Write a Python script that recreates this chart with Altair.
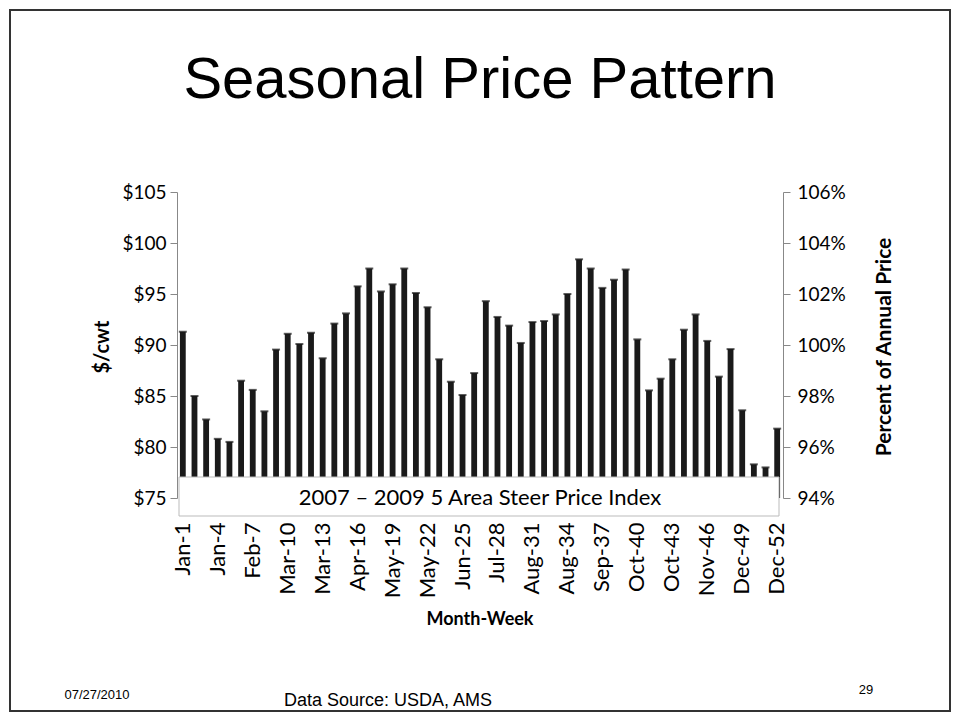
import altair as alt
import pandas as pd

week_labels = [
    "Jan-1", "Jan-2", "Jan-3", "Jan-4", "Feb-5", "Feb-6", "Feb-7", "Feb-8",
    "Mar-9", "Mar-10", "Mar-11", "Mar-12", "Mar-13", "Apr-14", "Apr-15", "Apr-16",
    "Apr-17", "May-18", "May-19", "May-20", "May-21", "May-22", "Jun-23", "Jun-24",
    "Jun-25", "Jun-26", "Jul-27", "Jul-28", "Jul-29", "Jul-30", "Aug-31", "Aug-32",
    "Aug-33", "Aug-34", "Aug-35", "Sep-36", "Sep-37", "Sep-38", "Sep-39", "Oct-40",
    "Oct-41", "Oct-42", "Oct-43", "Nov-44", "Nov-45", "Nov-46", "Nov-47", "Dec-48",
    "Dec-49", "Dec-50", "Dec-51", "Dec-52",
]
prices = [
    91.3, 85.0, 82.7, 80.8, 80.5, 86.5, 85.6, 83.5,
    89.55, 91.1, 90.1, 91.2, 88.7, 92.1, 93.1, 95.75,
    97.5, 95.25, 95.95, 97.5, 95.1, 93.7, 88.6, 86.4,
    85.1, 87.25, 94.3, 92.75, 91.9, 90.2, 92.25, 92.35,
    93.0, 95.0, 98.4, 97.5, 95.6, 96.4, 97.4, 90.55,
    85.55, 86.7, 88.6, 91.5, 93.0, 90.4, 86.9, 89.6,
    83.6, 78.3, 78.0, 81.8,
]
tick_labels = ["Jan-1", "Jan-4", "Feb-7", "Mar-10", "Mar-13", "Apr-16", "May-19",
               "May-22", "Jun-25", "Jul-28", "Aug-31", "Aug-34", "Sep-37", "Oct-40",
               "Oct-43", "Nov-46", "Dec-49", "Dec-52"]
price_ticks = [75, 80, 85, 90, 95, 100, 105]
pct_ticks = [0.94, 0.96, 0.98, 1.00, 1.02, 1.04, 1.06]

title_text = "Seasonal Price Pattern"
box_text = "2007 \u2013 2009 5 Area Steer Price Index"
left_title = "$/cwt"
right_title = "Percent of Annual Price"
x_title = "Month-Week"
date_text = "07/27/2010"
source_text = "Data Source: USDA, AMS"
page_text = "29"

W, H = 606, 306
FONT = "Lato"
AX = "#888888"

df = pd.DataFrame({"week": week_labels, "price": prices})
one = pd.DataFrame({"k": [0]})
pct_df = pd.DataFrame({"pct": [pct_ticks[0], pct_ticks[-1]]})

xenc = alt.X(
    "week:N", sort=week_labels,
    scale=alt.Scale(paddingInner=0.5, paddingOuter=0.25),
    axis=alt.Axis(values=tick_labels, labelAngle=-90, ticks=False, domain=False,
                  labelPadding=24, title=None, labelFont=FONT, labelFontSize=22,
                  labelColor="black"),
)
yenc = alt.Y(
    "price:Q",
    scale=alt.Scale(domain=[75, 105], zero=False, nice=False),
    axis=alt.Axis(values=price_ticks, labelExpr="'$' + datum.value", title=None,
                  labelFont=FONT, labelFontSize=19, labelColor="black",
                  tickSize=7, labelPadding=4, grid=False,
                  domainColor=AX, tickColor=AX),
)

bars = alt.Chart(df).mark_bar(color="#1a1a1a").encode(
    x=xenc, y=yenc, y2=alt.datum(75)
)
caps = alt.Chart(df).mark_tick(color="#1a1a1a", thickness=2, size=8).encode(
    x=alt.X("week:N", sort=week_labels), y=alt.Y("price:Q")
)
price_layer = alt.layer(bars, caps)

pct = alt.Chart(pct_df).mark_point(opacity=0).encode(
    y=alt.Y("pct:Q",
            scale=alt.Scale(domain=[pct_ticks[0], pct_ticks[-1]], zero=False, nice=False),
            axis=alt.Axis(orient="right", values=pct_ticks, format=".0%", title=None,
                          labelFont=FONT, labelFontSize=19, labelColor="black",
                          tickSize=7, labelPadding=7, grid=False,
                          domainColor=AX, tickColor=AX))
)

box = alt.Chart(one).mark_rect(fill="white", stroke="#bbbbbb", strokeWidth=1).encode(
    x=alt.value(2), x2=alt.value(602), y=alt.value(285), y2=alt.value(324)
)
box_label = alt.Chart(one).mark_text(font=FONT, fontSize=22, color="black",
                                     baseline="middle").encode(
    x=alt.value(303), y=alt.value(306), text=alt.value(box_text)
)

title = alt.Chart(one).mark_text(font="Liberation Sans", fontSize=58, color="black",
                                 baseline="alphabetic").encode(
    x=alt.value(303), y=alt.value(-94), text=alt.value(title_text)
)
ltitle = alt.Chart(one).mark_text(font=FONT, fontSize=20, fontWeight="bold", angle=270,
                                  baseline="middle", color="black").encode(
    x=alt.value(-74), y=alt.value(155), text=alt.value(left_title)
)
rtitle = alt.Chart(one).mark_text(font=FONT, fontSize=21, fontWeight="bold", angle=270,
                                  baseline="middle", color="black").encode(
    x=alt.value(708), y=alt.value(155), text=alt.value(right_title)
)
xtitle = alt.Chart(one).mark_text(font=FONT, fontSize=18, fontWeight="bold",
                                  baseline="middle", color="black").encode(
    x=alt.value(303), y=alt.value(428), text=alt.value(x_title)
)
date_lbl = alt.Chart(one).mark_text(font="Liberation Sans", fontSize=13,
                                    baseline="middle", color="black").encode(
    x=alt.value(-80), y=alt.value(503), text=alt.value(date_text)
)
src_lbl = alt.Chart(one).mark_text(font="Liberation Sans", fontSize=18,
                                   baseline="middle", color="black").encode(
    x=alt.value(211), y=alt.value(509), text=alt.value(source_text)
)
page_lbl = alt.Chart(one).mark_text(font="Liberation Sans", fontSize=13,
                                    baseline="middle", color="black").encode(
    x=alt.value(689), y=alt.value(498), text=alt.value(page_text)
)
frame = alt.Chart(one).mark_rect(fill=None, stroke="#333333", strokeWidth=2).encode(
    x=alt.value(-167), x2=alt.value(773), y=alt.value(-182), y2=alt.value(519)
)

chart = alt.layer(
    price_layer, pct, box, box_label, title, ltitle, rtitle, xtitle,
    date_lbl, src_lbl, page_lbl, frame
).resolve_scale(y="independent").properties(
    width=W, height=H,
    autosize=alt.AutoSizeParams(type="none"),
    padding={"left": 169, "right": 169, "top": 184, "bottom": 215},
    background="white",
).configure_view(strokeWidth=0, stroke="transparent")

chart.save("out.html", embed_options={"renderer": "svg", "actions": False})
